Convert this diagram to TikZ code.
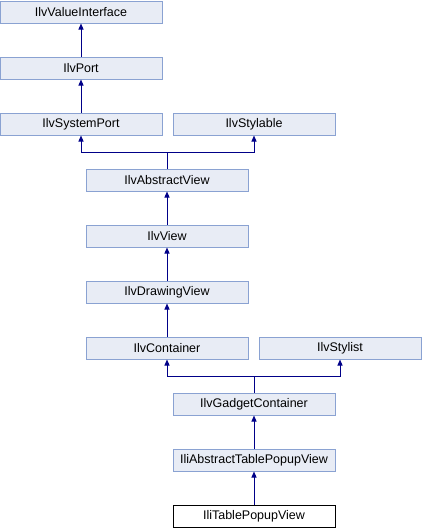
\documentclass[tikz,border=0pt]{standalone}
\usepackage{fontspec}
\setmainfont{Liberation Sans}
\usetikzlibrary{arrows.meta}
\definecolor{boxfill}{HTML}{E8ECF5}
\definecolor{boxline}{HTML}{8AA2D2}
\definecolor{edgeblue}{HTML}{000088}

\begin{document}
\begin{tikzpicture}[x=1pt, y=-1pt, >={Triangle[width=5pt,length=6pt]},
    classbox/.style={draw=boxline, fill=boxfill, line width=1pt, minimum width=162pt,
        minimum height=22pt, inner sep=0pt, font=\fontsize{12.5}{14}\selectfont},
    thisbox/.style={classbox, draw=black, fill=white},
    inherit/.style={draw=edgeblue, line width=1pt, ->}]
    \useasboundingbox (0,0) rectangle (422,528);

    \node[classbox] (valueinterface) at (81,12)  {IlvValueInterface};
    \node[classbox] (port)           at (81,68)  {IlvPort};
    \node[classbox] (systemport)     at (81,124) {IlvSystemPort};
    \node[classbox] (stylable)       at (254,124) {IlvStylable};
    \node[classbox] (abstractview)   at (167,180) {IlvAbstractView};
    \node[classbox] (view)           at (167,236) {IlvView};
    \node[classbox] (drawingview)    at (167,292) {IlvDrawingView};
    \node[classbox] (container)      at (167,348) {IlvContainer};
    \node[classbox] (stylist)        at (340,348) {IlvStylist};
    \node[classbox] (gadgetcontainer) at (254,404) {IlvGadgetContainer};
    \node[classbox] (abstracttable)  at (254,460) {IliAbstractTablePopupView};
    \node[thisbox]  (tablepopup)     at (254,516) {IliTablePopupView};

    % junctions of the two double inheritances
    \coordinate (joinA) at (167,152);
    \coordinate (joinB) at (254,376);

    \draw[inherit] (port) -- (valueinterface);
    \draw[inherit] (systemport) -- (port);
    \draw[draw=edgeblue, line width=1pt] (abstractview) -- (joinA);
    \draw[inherit] (joinA) -| (systemport);
    \draw[inherit] (joinA) -| (stylable);
    \draw[inherit] (view) -- (abstractview);
    \draw[inherit] (drawingview) -- (view);
    \draw[inherit] (container) -- (drawingview);
    \draw[draw=edgeblue, line width=1pt] (gadgetcontainer) -- (joinB);
    \draw[inherit] (joinB) -| (container);
    \draw[inherit] (joinB) -| (stylist);
    \draw[inherit] (abstracttable) -- (gadgetcontainer);
    \draw[inherit] (tablepopup) -- (abstracttable);
\end{tikzpicture}
\end{document}
